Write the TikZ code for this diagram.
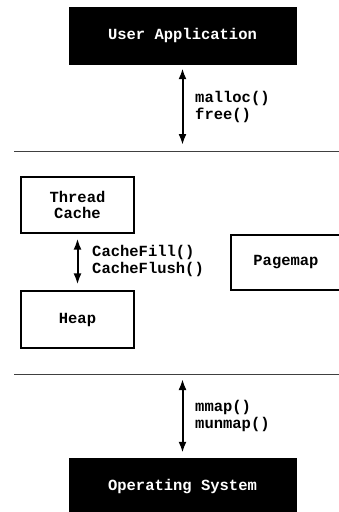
\documentclass[tikz,border=0pt]{standalone}
\usepackage{fontspec}
\usepackage{tikz}
\setmonofont{Liberation Mono}
\usetikzlibrary{arrows.meta}
\usetikzlibrary{positioning}
\newcommand{\callfont}{\ttfamily\bfseries\fontsize{15.5}{16.5}\selectfont}
\tikzset{blackbox/.style = {fill=black, draw=black, text=white,
                            minimum width=227pt, minimum height=57pt, inner sep=0pt},
         whitebox/.style = {draw=black, line width=1.2pt, align=center,
                            minimum width=113pt, minimum height=56pt, inner sep=0pt},
         calls/.style = {anchor=west, align=left, inner sep=0pt},
         dbl/.style = {{Latex[length=11pt,width=8pt]}-{Latex[length=11pt,width=8pt]},
                       line width=2pt},
         layer/.style = {draw=black!75, line width=1pt}}

\begin{document}
\begin{tikzpicture}[x=1pt, y=-1pt, font=\callfont]
      \useasboundingbox (0, 0) rectangle (339, 512);

      % user level
      \node [blackbox] (app) at (182.5, 35.5) {User Application};
      \coordinate (lineA-west) at (14, 151);
      \coordinate (lineA-east) at (345, 151);
      \coordinate (appcall) at (182.5, 145);
      \draw [layer] (lineA-west) -- (lineA-east);
      \draw [dbl] ([yshift=-4pt]app.south) -- (appcall);
      \node [calls] (appfun) at (195, 107) {malloc()\\free()};

      % allocator
      \node [whitebox] (tcache) at (77.5, 205) {Thread\\Cache};
      \node [whitebox, minimum height=57pt] (heap) at (77.5, 319.5) {Heap};
      \node [whitebox, minimum width=110pt, minimum height=55pt] (pagemap) at (286, 262.5) {Pagemap};
      \draw [dbl] ([yshift=-5pt]tcache.south) -- ([yshift=6pt]heap.north);
      \node [calls] (cachefun) at (92, 261) {CacheFill()\\CacheFlush()};

      % kernel
      \coordinate (lineB-west) at (14, 374);
      \coordinate (lineB-east) at (345, 374);
      \coordinate (oscall) at (182.5, 379);
      \draw [layer] (lineB-west) -- (lineB-east);
      \node [blackbox, minimum height=58pt] (os) at (182.5, 487) {Operating System};
      \draw [dbl] (oscall) -- ([yshift=5pt]os.north);
      \node [calls] (osfun) at (195, 416) {mmap()\\munmap()};
    \end{tikzpicture}
\end{document}
